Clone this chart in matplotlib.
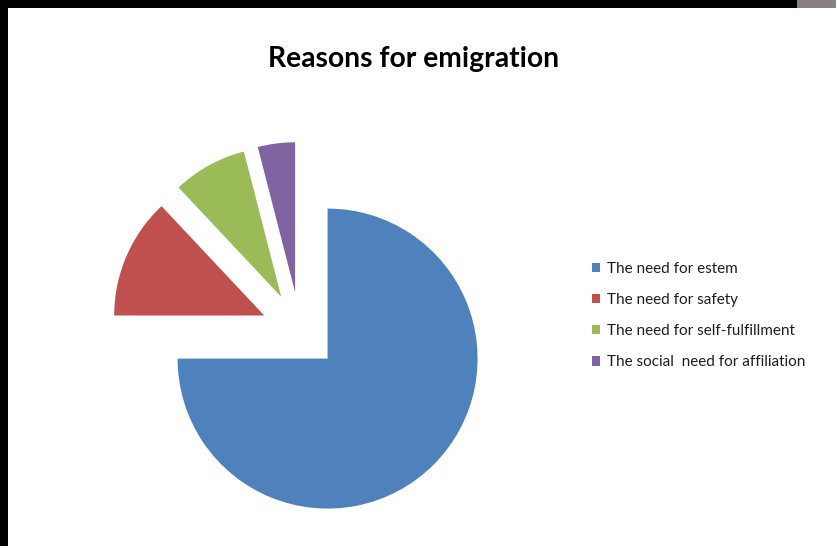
import matplotlib.pyplot as plt
from matplotlib.patches import Rectangle

# reasons and their shares (percent)
reasons = ["The need for estem", "The need for safety",
           "The need for self-fulfillment", "The social  need for affiliation"]
shares = [75, 13, 8, 4]
colors = ["#4F81BD", "#C0504D", "#9BBB59", "#8064A2"]

W, H = 836, 546
fig = plt.figure(figsize=(W / 100, H / 100), dpi=100)
fig.patch.set_facecolor("white")

# pie axes fill the figure; 1 data unit = 150 px, centre at (300, 331) px
ax = fig.add_axes([0, 0, 1, 1])
wedges, _ = ax.pie(shares, colors=colors, startangle=90, counterclock=False,
                   explode=[0.26] * 4, radius=1,
                   wedgeprops=dict(linewidth=0))
cx, cy, r = 300, H - 331, 150
ax.set_xlim(-cx / r, (W - cx) / r)
ax.set_ylim(-cy / r, (H - cy) / r)
ax.set_aspect("auto")
ax.axis("off")

fig.text(414 / W, 1 - 59 / H, "Reasons for emigration", ha="center",
         va="center", fontsize=20.3, fontweight="bold", family="Lato")

leg = ax.legend(wedges, reasons, loc="upper left",
                bbox_to_anchor=(592 / W, 1 - 262 / H),
                bbox_transform=fig.transFigure, frameon=False,
                handlelength=0.55, handleheight=0.55, handletextpad=0.45,
                labelspacing=1.12, borderaxespad=0, borderpad=0,
                prop=dict(family="Lato", size=11))
for t in leg.get_texts():
    t.set_color("#1e1e1e")

# dark screen edge along the top and left
fig.patches.append(Rectangle((0, 1 - 8 / H), 1, 8 / H, transform=fig.transFigure,
                             facecolor="black", edgecolor="none", zorder=10))
fig.patches.append(Rectangle((0, 0), 8 / W, 1, transform=fig.transFigure,
                             facecolor="black", edgecolor="none", zorder=10))
fig.patches.append(Rectangle((797 / W, 1 - 8 / H), 39 / W, 8 / H,
                             transform=fig.transFigure, facecolor="#8a7f86",
                             edgecolor="none", zorder=11))

fig.savefig("out.png", dpi=100)
